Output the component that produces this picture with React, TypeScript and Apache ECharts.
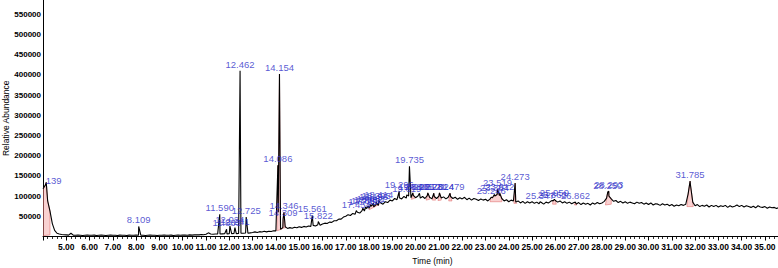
import React, { useEffect, useRef } from "react";
import * as echarts from "echarts";

// ---- axis ticks / labels ----
const xTickValues = [5, 6, 7, 8, 9, 10, 11, 12, 13, 14, 15, 16, 17, 18, 19, 20, 21, 22, 23, 24, 25, 26, 27, 28, 29, 30, 31, 32, 33, 34, 35];
const yTickValues = [50000, 100000, 150000, 200000, 250000, 300000, 350000, 400000, 450000, 500000, 550000];

// ---- chromatogram trace: sampled every 0.1 min from 4.0 min, abundance in thousands ----
const traceStart = 4.0;
const traceStep = 0.1;
const traceValuesK = [
  118, 127, 88, 63, 32, 15, 8, 6, 5, 4.5,
  4, 3.5, 8, 3.5, 3, 3.5, 3, 2.5, 3, 3.5,
  3, 3, 3.5, 2.5, 3, 3.5, 3, 2.5, 3, 3.5,
  3, 3, 2.5, 3.5, 3, 3, 2.5, 3.5, 3, 3,
  3.5, 3, 3.5, 3, 2.5, 3, 3.5, 3, 3, 2.5,
  3, 3, 3.5, 3, 3, 3.5, 2.5, 3, 3.5, 3,
  3.5, 3.5, 3, 4, 3.5, 4, 4.5, 4, 5, 4.5,
  5.5, 9, 6, 5.5, 6, 6.5, 6, 6.5, 7, 6.5,
  7, 7, 7.5, 7, 7.5, 8, 8, 8.5, 8, 9,
  10, 11.5, 10, 12, 11, 13, 11.5, 13, 12.5, 14,
  14, 60, 18, 22, 24, 20, 22, 20.5, 23, 21.5,
  24, 22.5, 25, 23.5, 26, 25, 27.5, 26, 29, 28,
  31, 33, 32, 35.5, 35, 39, 39, 43, 43, 48,
  50, 54, 52, 57, 55, 60, 58, 64, 63, 69,
  70, 75, 73, 79, 77, 83, 80, 86, 84, 90,
  88, 94, 91, 96, 93, 99, 95, 100, 96, 102,
  96, 100, 95, 99, 94, 101, 97, 93, 99, 94,
  100, 95, 98, 93, 97, 99, 94, 97, 92, 96,
  93, 97, 91, 95, 90, 94, 92, 89, 93, 90,
  92, 88, 93, 96, 100, 104, 101, 94, 88, 91,
  86, 90, 88, 85, 88, 83, 87, 82, 86, 83,
  86, 82, 85, 81, 84, 80, 85, 83, 87, 88,
  89, 85, 88, 83, 86, 82, 85, 81, 84, 80,
  84, 79, 83, 80, 82, 78, 83, 80, 84, 81,
  83, 87, 95, 100, 93, 87, 89, 84, 87, 83,
  86, 82, 85, 83, 81, 85, 82, 84, 80, 83,
  79, 83, 78, 81, 80, 77, 81, 78, 80, 76,
  79, 75, 78, 76, 79, 77, 80, 105, 128, 85,
  76, 79, 74, 77, 75, 78, 73, 77, 74, 77,
  73, 76, 74, 77, 72, 76, 73, 75, 78, 74,
  77, 73, 76, 74, 72, 75, 71, 76, 73, 72,
  74, 70, 73, 71, 72, 69, 72,
];

// ---- labelled peaks ----
const peakTimes = [4.139, 8.109, 11.59, 11.883, 12.024, 12.241, 12.462, 12.725, 14.086, 14.154, 14.309, 14.346, 15.561, 15.822, 17.454, 17.735, 17.853, 17.962, 18.081, 18.196, 18.305, 18.414, 19.296, 19.619, 19.735, 19.88, 20.165, 20.523, 20.781, 21.024, 21.479, 23.246, 23.384, 23.519, 23.612, 24.273, 25.347, 25.863, 25.959, 26.862, 28.25, 28.293, 31.785];
const peakHeightsK = [134, 25, 55, 18, 26, 22, 410, 48, 176, 402, 43, 60, 52, 37, 64, 70, 73, 76, 79, 82, 85, 89, 112, 103, 174, 108, 107, 108, 107, 108, 107, 97, 104, 117, 107, 132, 86, 89, 92, 85, 110, 112, 137];
const peakLabels = ["139", "8.109", "11.590", "11.883", "12.024", "12.241", "12.462", "12.725", "14.086", "14.154", "14.309", "14.346", "15.561", "15.822", "17.454", "17.735", "17.853", "17.962", "18.081", "18.196", "18.305", "18.414", "19.296", "19.619", "19.735", "19.880", "20.165", "20.523", "20.781", "21.024", "21.479", "23.246", "23.384", "23.519", "23.612", "24.273", "25.347", "25.863", "25.959", "26.862", "28.250", "28.293", "31.785"];

// ---- integrated peak areas: start, end (min), baseline at start / end (thousands) ----
const areaStarts = [4.0, 14.04, 14.26, 18.0, 19.82, 20.45, 20.72, 20.96, 21.42, 23.2, 24.22, 25.88, 26.82, 28.15, 31.65];
const areaEnds = [4.3, 14.24, 14.42, 18.45, 19.98, 20.6, 20.86, 21.1, 21.56, 23.7, 24.34, 26.04, 26.92, 28.4, 31.92];
const areaBaseStartK = [2, 14, 20, 66, 92, 90, 90, 89, 88, 86, 82, 80, 78, 78, 74];
const areaBaseEndK = [4, 18, 22, 80, 95, 92, 90, 90, 88, 86, 82, 80, 78, 80, 74];

const FONT = "'Liberation Sans', Arial, Helvetica, sans-serif";

export default function App() {
  const ref = useRef<HTMLDivElement>(null);

  useEffect(() => {
    document.body.style.margin = "0";
    if (!ref.current) return;
    const chart = echarts.init(ref.current, undefined, { renderer: "svg" });

    const gridPts: number[][] = traceValuesK.map((v, i) => [
      +(traceStart + i * traceStep).toFixed(2),
      v * 1000,
    ]);
    const peakPts: number[][] = peakTimes.map((t, i) => [t, peakHeightsK[i] * 1000]);
    const tracePoints = gridPts.concat(peakPts).sort((a, b) => a[0] - b[0]);

    const labelData = peakTimes.map((t, i) => {
      const item: any = { value: [t, peakHeightsK[i] * 1000] };
      if (i === 0) {
        item.label = { position: "right", distance: 0, offset: [-1, -2] };
      }
      return item;
    });

    const areaData = areaStarts.map((s, i) => [s, areaBaseStartK[i] * 1000]);

    chart.setOption({
      animation: false,
      grid: { left: 43, right: 0, top: 0, bottom: 31.5, containLabel: false, outerBoundsMode: "none" },
      xAxis: {
        type: "value",
        min: 4,
        max: 35.56,
        interval: 1,
        name: "Time (min)",
        nameLocation: "middle",
        nameGap: 20,
        nameMoveOverlap: false,
        nameTextStyle: { fontSize: 8.5, color: "#000", fontFamily: FONT, padding: [0, 0, 0, 44] },
        axisLine: { show: true, lineStyle: { color: "#000", width: 1 } },
        axisTick: { show: true, length: 4, lineStyle: { color: "#000", width: 1 } },
        minorTick: { show: true, splitNumber: 5, length: 2.5, lineStyle: { color: "#000", width: 0.8 } },
        splitLine: { show: false },
        axisLabel: {
          margin: 6,
          fontSize: 8.5,
          fontWeight: "bold",
          color: "#000",
          fontFamily: FONT,
          formatter: (v: number) => (xTickValues.includes(v) ? v.toFixed(2) : ""),
        },
      },
      yAxis: {
        type: "value",
        min: 0,
        max: 585000,
        interval: 50000,
        name: "Relative Abundance",
        nameLocation: "middle",
        nameRotate: 90,
        nameGap: 33,
        nameMoveOverlap: false,
        nameTextStyle: { fontSize: 8.5, color: "#000", fontFamily: FONT },
        axisLine: { show: true, lineStyle: { color: "#000", width: 1 } },
        axisTick: { show: false },
        splitLine: { show: false },
        axisLabel: {
          margin: 2,
          fontSize: 8,
          fontWeight: "bold",
          color: "#000",
          fontFamily: FONT,
          formatter: (v: number) => (yTickValues.includes(v) ? String(v) : ""),
        },
      },
      series: [
        {
          type: "custom",
          silent: true,
          clip: true,
          z: 1,
          encode: { x: 0, y: 1 },
          data: areaData,
          renderItem: (params: any, api: any) => {
            const i = params.dataIndex;
            const ts = areaStarts[i];
            const te = areaEnds[i];
            const pts = tracePoints
              .filter((p) => p[0] >= ts && p[0] <= te)
              .map((p) => api.coord(p));
            pts.push(api.coord([te, areaBaseEndK[i] * 1000]));
            pts.push(api.coord([ts, areaBaseStartK[i] * 1000]));
            return {
              type: "polygon",
              shape: { points: pts },
              style: { fill: "rgba(240,140,140,0.4)", stroke: "#e07070", lineWidth: 0.6 },
            };
          },
        },
        {
          type: "line",
          data: tracePoints,
          showSymbol: false,
          symbol: "none",
          clip: true,
          z: 3,
          silent: true,
          lineStyle: { color: "#000", width: 1.1 },
        },
        {
          type: "scatter",
          data: labelData,
          symbolSize: 1,
          itemStyle: { color: "rgba(0,0,0,0)" },
          z: 4,
          silent: true,
          label: {
            show: true,
            position: "top",
            distance: 1,
            fontSize: 9.5,
            color: "#2e2ec8",
            fontFamily: FONT,
            formatter: (p: any) => peakLabels[p.dataIndex],
          },
        },
      ],
    });

    return () => {
      chart.dispose();
    };
  }, []);

  return <div ref={ref} style={{ width: 778, height: 268 }} />;
}
